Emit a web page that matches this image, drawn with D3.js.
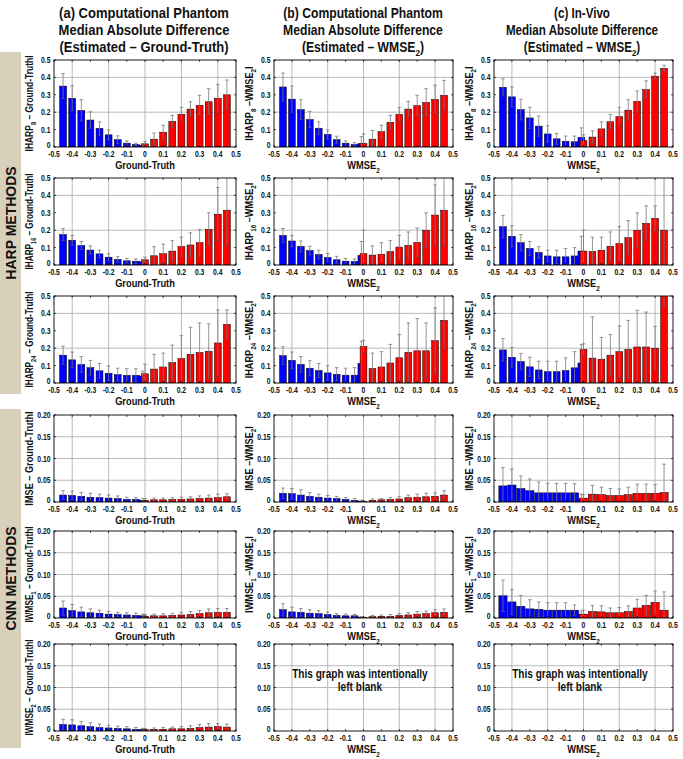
<!DOCTYPE html>
<html><head><meta charset="utf-8">
<script src="https://cdn.jsdelivr.net/npm/d3@7"></script>
<style>
body{margin:0;background:#fff}
svg text{font-family:"Liberation Sans",Arial,sans-serif;font-weight:bold;fill:#111}
</style>
</head><body>
<svg id="c" width="683" height="759"></svg>
<script>
// ---------- categories / ticks ----------
const binsBlue = [-0.45,-0.4,-0.35,-0.3,-0.25,-0.2,-0.15,-0.1,-0.05,0];
const binsRed  = [0,0.05,0.1,0.15,0.2,0.25,0.3,0.35,0.4,0.45];
const xTicks = [-0.5,-0.4,-0.3,-0.2,-0.1,0,0.1,0.2,0.3,0.4,0.5];
const xTickLabels = ["-0.5","-0.4","-0.3","-0.2","-0.1","0","0.1","0.2","0.3","0.4","0.5"];
const xGrid = [-0.4,-0.2,0,0.2,0.4];
const harpYTicks = [0,0.1,0.2,0.3,0.4,0.5];
const harpYTickLabels = ["0","0.1","0.2","0.3","0.4","0.5"];
const harpYGrid = [0.2,0.4];
const cnnYTicks = [0,0.05,0.1,0.15,0.2];
const cnnYTickLabels = ["0","0.05","0.10","0.15","0.20"];
const cnnYGrid = [0.05,0.1,0.15];

const colTitles = [
  ["(a) Computational Phantom","Median Absolute Difference","(Estimated \u2013 Ground-Truth)"],
  ["(b) Computational Phantom","Median Absolute Difference","(Estimated \u2013 WMSE{2})"],
  ["(c) In-Vivo","Median Absolute Difference","(Estimated \u2013 WMSE{2})"]
];
const groupLabels = ["HARP METHODS","CNN METHODS"];
const yLabelsGT = ["IHARP{8} \u2013 Ground-TruthI","IHARP{16} \u2013 Ground-TruthI","IHARP{24} \u2013 Ground-TruthI","IMSE \u2013 Ground-TruthI","IWMSE{1} \u2013 Ground-TruthI","IWMSE{2} \u2013 Ground-TruthI"];
const yLabelsW = ["IHARP{8} \u2013WMSE{2}I","IHARP{16} \u2013WMSE{2}I","IHARP{24} \u2013WMSE{2}I","IMSE \u2013WMSE{2}I","IWMSE{1} \u2013WMSE{2}I","IWMSE{2} \u2013WMSE{2}I"];
const xLabels = ["Ground-Truth","WMSE{2}","WMSE{2}"];
const blankText = ["This graph was intentionally","left blank"];

// ---------- series values (median, and upper end of error bar) ----------
const h8_gt_blue=[0.35,0.28,0.21,0.155,0.107,0.07,0.042,0.022,0.014,0.01];
const h8_gt_blueHi=[0.422,0.352,0.272,0.202,0.145,0.098,0.064,0.035,0.022,0.02];
const h8_gt_red=[0.018,0.045,0.085,0.147,0.188,0.218,0.24,0.26,0.28,0.30];
const h8_gt_redHi=[0.033,0.08,0.125,0.182,0.228,0.26,0.297,0.335,0.36,0.385];

const h8_ph_blue=[0.345,0.275,0.215,0.158,0.108,0.072,0.042,0.022,0.014,0.02];
const h8_ph_blueHi=[0.425,0.35,0.272,0.205,0.145,0.098,0.062,0.035,0.025,0.06];
const h8_ph_red=[0.02,0.045,0.088,0.142,0.188,0.218,0.238,0.256,0.273,0.297];
const h8_ph_redHi=[0.075,0.095,0.125,0.182,0.228,0.262,0.297,0.335,0.355,0.383];

const h8_iv_blue=[0.343,0.288,0.215,0.167,0.12,0.075,0.047,0.033,0.03,0.055];
const h8_iv_blueHi=[0.392,0.345,0.275,0.228,0.178,0.122,0.078,0.063,0.063,0.11];
const h8_iv_red=[0.037,0.057,0.104,0.145,0.175,0.212,0.262,0.33,0.407,0.452];
const h8_iv_redHi=[0.07,0.093,0.145,0.187,0.228,0.272,0.322,0.38,0.425,0.47];

const h16_gt_blue=[0.175,0.142,0.112,0.086,0.064,0.045,0.032,0.024,0.022,0.018];
const h16_gt_blueHi=[0.21,0.17,0.135,0.11,0.085,0.065,0.048,0.038,0.035,0.03];
const h16_gt_red=[0.03,0.053,0.065,0.08,0.106,0.115,0.128,0.205,0.292,0.315];
const h16_gt_redHi=[0.045,0.105,0.12,0.14,0.16,0.185,0.205,0.3,0.445,0.52];

const h16_ph_blue=[0.17,0.138,0.107,0.083,0.06,0.043,0.03,0.022,0.02,0.055];
const h16_ph_blueHi=[0.21,0.17,0.138,0.108,0.085,0.065,0.05,0.038,0.035,0.135];
const h16_ph_red=[0.065,0.057,0.062,0.077,0.103,0.113,0.13,0.2,0.287,0.315];
const h16_ph_redHi=[0.2,0.11,0.128,0.14,0.17,0.19,0.212,0.3,0.46,0.52];

const h16_iv_blue=[0.22,0.165,0.128,0.095,0.072,0.052,0.047,0.047,0.052,0.08];
const h16_iv_blueHi=[0.285,0.225,0.175,0.135,0.105,0.085,0.085,0.095,0.1,0.165];
const h16_iv_red=[0.08,0.078,0.085,0.108,0.123,0.157,0.2,0.24,0.268,0.2];
const h16_iv_redHi=[0.2,0.16,0.16,0.19,0.222,0.255,0.3,0.34,0.34,0.52];

const h24_gt_blue=[0.16,0.133,0.106,0.088,0.07,0.056,0.048,0.044,0.044,0.04];
const h24_gt_blueHi=[0.212,0.178,0.152,0.13,0.112,0.098,0.085,0.082,0.082,0.068];
const h24_gt_red=[0.053,0.08,0.092,0.117,0.14,0.165,0.175,0.182,0.23,0.337];
const h24_gt_redHi=[0.108,0.165,0.172,0.218,0.272,0.32,0.345,0.34,0.42,0.42];

const h24_ph_blue=[0.157,0.13,0.107,0.085,0.072,0.058,0.05,0.045,0.045,0.113];
const h24_ph_blueHi=[0.208,0.178,0.152,0.128,0.112,0.1,0.088,0.085,0.088,0.24];
const h24_ph_red=[0.21,0.083,0.092,0.115,0.145,0.177,0.185,0.185,0.243,0.36];
const h24_ph_redHi=[0.245,0.172,0.18,0.222,0.278,0.345,0.37,0.345,0.432,0.52];

const h24_iv_blue=[0.19,0.148,0.123,0.093,0.075,0.065,0.065,0.072,0.087,0.115];
const h24_iv_blueHi=[0.255,0.205,0.17,0.148,0.125,0.125,0.125,0.145,0.18,0.22];
const h24_iv_red=[0.193,0.143,0.137,0.16,0.18,0.193,0.207,0.207,0.2,0.52];
const h24_iv_redHi=[0.225,0.38,0.262,0.278,0.328,0.36,0.418,0.408,0.325,0.6];

const mse_gt_blue=[0.016,0.015,0.013,0.011,0.01,0.009,0.008,0.006,0.006,0.004];
const mse_gt_blueHi=[0.026,0.025,0.022,0.02,0.018,0.016,0.014,0.011,0.01,0.008];
const mse_gt_red=[0.004,0.005,0.005,0.006,0.006,0.007,0.008,0.009,0.01,0.012];
const mse_gt_redHi=[0.008,0.009,0.009,0.01,0.011,0.012,0.014,0.016,0.018,0.019];

const mse_ph_blue=[0.02,0.019,0.016,0.013,0.011,0.009,0.008,0.006,0.004,0.002];
const mse_ph_blueHi=[0.032,0.031,0.028,0.022,0.018,0.015,0.013,0.01,0.008,0.004];
const mse_ph_red=[0.001,0.004,0.005,0.006,0.007,0.01,0.011,0.012,0.013,0.016];
const mse_ph_redHi=[0.003,0.007,0.008,0.01,0.012,0.016,0.018,0.02,0.021,0.026];

const mse_iv_blue=[0.037,0.039,0.031,0.026,0.021,0.021,0.021,0.021,0.021,0.007];
const mse_iv_blueHi=[0.079,0.076,0.06,0.053,0.046,0.043,0.043,0.043,0.042,0.018];
const mse_iv_red=[0.009,0.018,0.017,0.015,0.015,0.017,0.02,0.02,0.02,0.022];
const mse_iv_redHi=[0.017,0.038,0.034,0.031,0.03,0.034,0.041,0.041,0.04,0.087];

const w1_gt_blue=[0.023,0.017,0.014,0.012,0.011,0.009,0.008,0.007,0.006,0.005];
const w1_gt_blueHi=[0.039,0.031,0.025,0.021,0.018,0.015,0.013,0.012,0.011,0.009];
const w1_gt_red=[0.004,0.005,0.005,0.006,0.007,0.008,0.01,0.012,0.013,0.013];
const w1_gt_redHi=[0.008,0.009,0.01,0.011,0.013,0.015,0.017,0.021,0.022,0.022];

const w1_ph_blue=[0.019,0.014,0.013,0.011,0.01,0.008,0.006,0.005,0.005,0.002];
const w1_ph_blueHi=[0.033,0.025,0.022,0.019,0.017,0.014,0.01,0.009,0.008,0.003];
const w1_ph_red=[0.001,0.003,0.004,0.004,0.006,0.007,0.009,0.01,0.012,0.013];
const w1_ph_redHi=[0.002,0.006,0.007,0.008,0.01,0.012,0.015,0.016,0.019,0.021];

const w1_iv_blue=[0.051,0.037,0.027,0.021,0.02,0.018,0.018,0.018,0.018,0.008];
const w1_iv_blueHi=[0.087,0.066,0.052,0.042,0.037,0.035,0.035,0.035,0.03,0.016];
const w1_iv_red=[0.009,0.015,0.014,0.012,0.012,0.015,0.023,0.029,0.036,0.018];
const w1_iv_redHi=[0.018,0.029,0.028,0.023,0.024,0.028,0.043,0.052,0.062,0.06];

const w2_gt_blue=[0.015,0.014,0.012,0.01,0.008,0.007,0.006,0.005,0.004,0.003];
const w2_gt_blueHi=[0.027,0.026,0.022,0.019,0.016,0.013,0.011,0.01,0.008,0.006];
const w2_gt_red=[0.003,0.004,0.004,0.005,0.005,0.006,0.008,0.009,0.01,0.009];
const w2_gt_redHi=[0.006,0.007,0.008,0.009,0.01,0.012,0.015,0.017,0.017,0.016];

// ---------- panel table built from the arrays ----------
const S = (b,bh,r,rh)=>({blue:b,blueHi:bh,red:r,redHi:rh});
const panelData = [
  [S(h8_gt_blue,h8_gt_blueHi,h8_gt_red,h8_gt_redHi),S(h8_ph_blue,h8_ph_blueHi,h8_ph_red,h8_ph_redHi),S(h8_iv_blue,h8_iv_blueHi,h8_iv_red,h8_iv_redHi)],
  [S(h16_gt_blue,h16_gt_blueHi,h16_gt_red,h16_gt_redHi),S(h16_ph_blue,h16_ph_blueHi,h16_ph_red,h16_ph_redHi),S(h16_iv_blue,h16_iv_blueHi,h16_iv_red,h16_iv_redHi)],
  [S(h24_gt_blue,h24_gt_blueHi,h24_gt_red,h24_gt_redHi),S(h24_ph_blue,h24_ph_blueHi,h24_ph_red,h24_ph_redHi),S(h24_iv_blue,h24_iv_blueHi,h24_iv_red,h24_iv_redHi)],
  [S(mse_gt_blue,mse_gt_blueHi,mse_gt_red,mse_gt_redHi),S(mse_ph_blue,mse_ph_blueHi,mse_ph_red,mse_ph_redHi),S(mse_iv_blue,mse_iv_blueHi,mse_iv_red,mse_iv_redHi)],
  [S(w1_gt_blue,w1_gt_blueHi,w1_gt_red,w1_gt_redHi),S(w1_ph_blue,w1_ph_blueHi,w1_ph_red,w1_ph_redHi),S(w1_iv_blue,w1_iv_blueHi,w1_iv_red,w1_iv_redHi)],
  [S(w2_gt_blue,w2_gt_blueHi,w2_gt_red,w2_gt_redHi),null,null]
];

// ---------- layout ----------
const colX0 = [54,274,494], colW = [182,179,179];
const rowY0 = [60,178,296,415,531,644], rowH = 87;
const titleCX = [144,363,582], titleY = [18,35,52], titleSize = [15.5,14.5,13.8];
const BLUE = "#0000ff", RED = "#ff0000";

const svg = d3.select("#c");

function rich(t, str, size){
  const parts = str.split(/(\{[^}]*\})/).filter(s=>s.length);
  let shifted = false;
  parts.forEach(p=>{
    const sp = t.append("tspan");
    if (p[0]==="{"){
      sp.text(p.slice(1,-1)).attr("font-size", size*0.68).attr("dy", shifted?0:size*0.28);
      shifted = true;
    } else {
      sp.text(p).attr("font-size", size);
      if (shifted){ sp.attr("dy", -size*0.28); shifted=false; }
    }
  });
  return t;
}
// text placed with a transform: translate, optional rotation, horizontal condensation f
// maxLen (optional) caps the rendered length by condensing further
function label(parent, x, y, str, size, f, anchor, rot, maxLen){
  const t = parent.append("text").attr("text-anchor", anchor);
  rich(t, str, size);
  let k = f;
  if (maxLen){
    const L = t.node().getComputedTextLength();
    if (L*k > maxLen) k = maxLen / L;
  }
  t.attr("transform", `translate(${x},${y})${rot?" rotate(-90)":""} scale(${k},1)`);
  return t;
}

// group bands
const bands = [[52,394],[409,748]];
bands.forEach((b,i)=>{
  svg.append("rect").attr("x",0).attr("y",b[0]).attr("width",21).attr("height",b[1]-b[0]).attr("fill","#d8d0bb");
  label(svg, 16, (b[0]+b[1])/2, groupLabels[i], 14, 1, "middle", true);
});

// column titles
colTitles.forEach((lines,c)=>{
  lines.forEach((ln,k)=> label(svg, titleCX[c], titleY[k], ln, titleSize[c], 0.84, "middle", false));
});

for (let r=0;r<6;r++){
  const isHarp = r<3;
  const yTicks = isHarp?harpYTicks:cnnYTicks, yLabs = isHarp?harpYTickLabels:cnnYTickLabels;
  const yGrid = isHarp?harpYGrid:cnnYGrid;
  for (let c=0;c<3;c++){
    const x0 = colX0[c], w = colW[c], y0 = rowY0[r];
    const x = d3.scaleLinear().domain([-0.5,0.5]).range([x0,x0+w]);
    const y = d3.scaleLinear().domain([0,isHarp?0.5:0.2]).range([y0+rowH,y0]);
    const g = svg.append("g");
    const cid = `clip${r}${c}`;
    svg.append("clipPath").attr("id",cid).append("rect").attr("x",x0).attr("y",y0).attr("width",w).attr("height",rowH);

    // grid
    g.selectAll(".gx").data(xGrid).join("line").attr("x1",d=>x(d)).attr("x2",d=>x(d)).attr("y1",y0).attr("y2",y0+rowH)
      .attr("stroke","#a8a8a8").attr("stroke-width",0.8);
    g.selectAll(".gy").data(yGrid).join("line").attr("y1",d=>y(d)).attr("y2",d=>y(d)).attr("x1",x0).attr("x2",x0+w)
      .attr("stroke","#a8a8a8").attr("stroke-width",0.8);

    const pd = panelData[r][c];
    const plot = g.append("g").attr("clip-path",`url(#${cid})`);
    if (pd){
      const bw = (c===2 && !isHarp) ? 0.046 : 0.038;
      const series = [
        {xs:binsBlue.map((v,i)=> i===9 ? v-0.012 : v), v:pd.blue, hi:pd.blueHi, col:BLUE},
        {xs:binsRed, v:pd.red, hi:pd.redHi, col:RED}
      ];
      series.forEach(s=>{
        const d = s.xs.map((xv,i)=>({x:xv,v:s.v[i],hi:s.hi[i]}));
        plot.selectAll(null).data(d).join("rect")
          .attr("x",e=>x(e.x-bw/2)).attr("width",e=>x(e.x+bw/2)-x(e.x-bw/2))
          .attr("y",e=>y(e.v)).attr("height",e=>y(0)-y(e.v))
          .attr("fill",s.col).attr("stroke","#000").attr("stroke-width",0.5);
      });
      series.forEach(s=>{
        const d = s.xs.map((xv,i)=>({x:xv,v:s.v[i],hi:s.hi[i]}));
        const eg = plot.selectAll(null).data(d).join("g");
        const lo = e=>Math.max(0,2*e.v-e.hi);
        eg.append("line").attr("x1",e=>x(e.x)).attr("x2",e=>x(e.x)).attr("y1",e=>y(lo(e))).attr("y2",e=>y(e.hi))
          .attr("stroke","#7a7a7a").attr("stroke-width",0.8);
        eg.append("line").attr("x1",e=>x(e.x)-1.8).attr("x2",e=>x(e.x)+1.8).attr("y1",e=>y(e.hi)).attr("y2",e=>y(e.hi))
          .attr("stroke","#7a7a7a").attr("stroke-width",0.8);
        eg.append("line").attr("x1",e=>x(e.x)-1.8).attr("x2",e=>x(e.x)+1.8).attr("y1",e=>y(lo(e))).attr("y2",e=>y(lo(e)))
          .attr("stroke","#555").attr("stroke-width",0.8);
      });
    } else {
      blankText.forEach((ln,k)=> label(g, x(-0.02), y(k===0?0.122:0.092), ln, 12, 0.84, "middle", false));
    }

    // box
    g.append("rect").attr("x",x0).attr("y",y0).attr("width",w).attr("height",rowH)
      .attr("fill","none").attr("stroke","#000").attr("stroke-width",0.9);
    // ticks (inward)
    g.selectAll(".tb").data(xTicks).join("line").attr("x1",d=>x(d)).attr("x2",d=>x(d)).attr("y1",y0+rowH).attr("y2",y0+rowH-2).attr("stroke","#000").attr("stroke-width",0.7);
    g.selectAll(".tt").data(xTicks).join("line").attr("x1",d=>x(d)).attr("x2",d=>x(d)).attr("y1",y0).attr("y2",y0+2).attr("stroke","#000").attr("stroke-width",0.7);
    g.selectAll(".tl").data(yTicks).join("line").attr("y1",d=>y(d)).attr("y2",d=>y(d)).attr("x1",x0).attr("x2",x0+2).attr("stroke","#000").attr("stroke-width",0.7);
    g.selectAll(".tr").data(yTicks).join("line").attr("y1",d=>y(d)).attr("y2",d=>y(d)).attr("x1",x0+w).attr("x2",x0+w-2).attr("stroke","#000").attr("stroke-width",0.7);

    // tick labels ("0" on the y axis nudged up so it clears the first x tick label)
    xTicks.forEach((d,i)=> label(g, x(d), y0+rowH+10.3, xTickLabels[i], 9.2, 0.74, "middle", false));
    yTicks.forEach((d,i)=> label(g, x0-3.5, y(d)+(i===0?1.0:3.0), yLabs[i], 9.2, 0.74, "end", false));

    // x label
    label(g, x0+w/2, y0+rowH+22.4, xLabels[c], 11.3, 0.82, "middle", false);

    // y label
    if (pd){
      const lab = c===0 ? yLabelsGT[r] : yLabelsW[r];
      label(g, x0-21, y0+rowH/2, lab, 11.2, 0.82, "middle", true, c===0 ? 96 : 90);
    }
  }
}
</script>
</body></html>
